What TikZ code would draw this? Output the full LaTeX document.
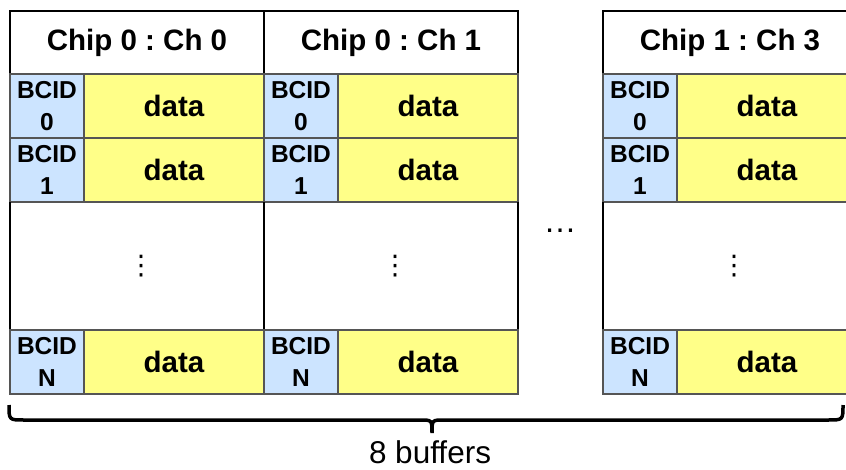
\documentclass[tikz,border=0pt]{standalone}
\usepackage{fontspec}
\setmainfont{Liberation Sans}
\newfontfamily\djv{DejaVu Sans}
\definecolor{bcidblue}{RGB}{204,228,255}
\definecolor{datayellow}{RGB}{255,255,136}
\definecolor{cellgray}{RGB}{85,85,85}
\tikzset{
  cellbase/.style={inner sep=0pt, outer sep=0pt, anchor=north west, align=center},
  hdr/.style={cellbase, draw=black, line width=2pt, fill=white,
    minimum width=254pt, minimum height=63pt,
    font=\fontsize{29.5}{34}\selectfont\bfseries},
  bcid/.style={cellbase, draw=cellgray, line width=1.5pt, fill=bcidblue,
    minimum width=74pt, minimum height=64pt,
    font=\fontsize{24.5}{32}\selectfont\bfseries},
  datac/.style={cellbase, draw=cellgray, line width=1.5pt, fill=datayellow,
    minimum width=180pt, minimum height=64pt,
    font=\fontsize{29.5}{34}\selectfont\bfseries},
  midc/.style={cellbase, draw=cellgray, line width=1.5pt, fill=white,
    minimum width=254pt, minimum height=128pt},
  sideline/.style={draw=black, line width=2pt},
  vdot/.style={font=\djv\fontsize{27}{30}\selectfont, inner sep=0pt},
  hdots/.style={font=\fontsize{33}{36}\selectfont, inner sep=0pt},
  bracestyle/.style={draw=black, line width=3.5pt},
  caption/.style={font=\fontsize{31.5}{36}\selectfont, inner sep=0pt, anchor=base}
}
\begin{document}
\begin{tikzpicture}[x=1pt,y=1pt]
\useasboundingbox (0,0) rectangle (846,-470);
\clip (0,0) rectangle (846,-470);
\foreach \xo/\cp/\ch/\id in {10/0/0/a,264/0/1/b,603/1/3/c}{
  \node[hdr] (h\id) at (\xo,-11) {Chip \cp\ :\ Ch \ch};
  \node[bcid] (b0\id) at (\xo,-74) {BCID\\0};
  \node[datac] (d0\id) at (\xo+74,-74) {data};
  \node[bcid] (b1\id) at (\xo,-138) {BCID\\1};
  \node[datac] (d1\id) at (\xo+74,-138) {data};
  \node[midc] (m\id) at (\xo,-202) {};
  \draw[sideline] (m\id.north west) -- (m\id.south west);
  \draw[sideline] (m\id.north east) -- (m\id.south east);
  \node[vdot] (v\id) at ([shift={(4,0)}]m\id.center) {⋮};
  \node[bcid] (bn\id) at (\xo,-330) {BCID\\N};
  \node[datac] (dn\id) at (\xo+74,-330) {data};
}
\node[hdots] (ell) at (560,-231) {…};
\draw[bracestyle] (9,-405) .. controls (9,-420) .. (24,-420) -- (420,-420)
  .. controls (432,-420) .. (432,-433) .. controls (432,-420) .. (444,-420)
  -- (828,-420) .. controls (843,-420) .. (843,-405);
\node[caption] (cap) at (430,-463) {8 buffers};
\end{tikzpicture}
\end{document}
